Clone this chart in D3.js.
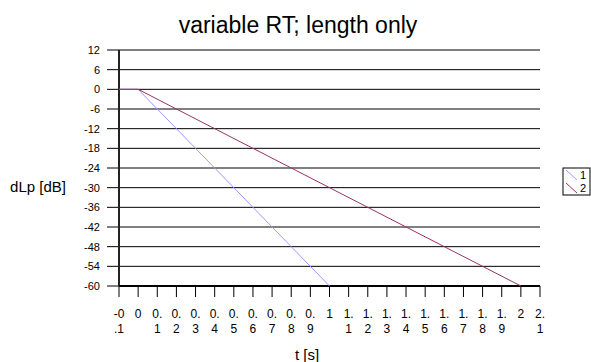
<!DOCTYPE html>
<html>
<head>
<meta charset="utf-8">
<script src="https://cdn.jsdelivr.net/npm/d3@7"></script>
<style>
  body { margin: 0; background: #fff; }
  svg { font-family: Arial, "Liberation Sans", sans-serif; }
</style>
</head>
<body>
<div id="chart"></div>
<script>
// data
var title = "variable RT; length only";
var seriesNames = ["1", "2"];
var seriesColors = ["#9999ff", "#993366"];
var tValues1 = [-0.1, 0, 1.0];
var dlp1 = [0, 0, -60];
var tValues2 = [-0.1, 0, 2.0];
var dlp2 = [0, 0, -60];
var yTicks = [12, 6, 0, -6, -12, -18, -24, -30, -36, -42, -48, -54, -60];
var xTicks = d3.range(-1, 22).map(function(i) { return i / 10; });

var series = [
    { name: seriesNames[0], color: seriesColors[0], t: tValues1, v: dlp1 },
    { name: seriesNames[1], color: seriesColors[1], t: tValues2, v: dlp2 }
];

var margin = { top: 50, right: 51, bottom: 76, left: 119 };
var width = 591 - margin.left - margin.right,
    height = 362 - margin.top - margin.bottom;

var root = d3.select("#chart").append("svg")
    .attr("width", 591)
    .attr("height", 362);

var svg = root.append("g")
    .attr("transform", "translate(" + margin.left + "," + margin.top + ")");

root.append("text")
    .attr("x", 298)
    .attr("y", 33)
    .style("text-anchor", "middle")
    .style("font-size", "23px")
    .text(title);

var x = d3.scaleLinear().domain([-0.1, 2.1]).range([0, width]);
var y = d3.scaleLinear().domain([-60, 12]).range([height, 0]);

// grid lines + left ticks
svg.selectAll("line.grid")
    .data(yTicks)
    .enter().append("line")
    .attr("class", "grid")
    .attr("x1", -12)
    .attr("x2", width)
    .attr("y1", function(d) { return y(d); })
    .attr("y2", function(d) { return y(d); })
    .attr("stroke", "#000")
    .attr("stroke-width", 1);

svg.selectAll("text.ylab")
    .data(yTicks)
    .enter().append("text")
    .attr("class", "ylab")
    .attr("x", -19)
    .attr("y", function(d) { return y(d) + 4; })
    .style("text-anchor", "end")
    .style("font-size", "11px")
    .text(function(d) { return d; });

// left axis line
svg.append("line")
    .attr("x1", 0).attr("x2", 0)
    .attr("y1", y(12)).attr("y2", height)
    .attr("stroke", "#222")
    .attr("stroke-width", 2);

// bottom axis
svg.append("line")
    .attr("x1", 0).attr("x2", width)
    .attr("y1", height).attr("y2", height)
    .attr("stroke", "#000")
    .attr("stroke-width", 2);

svg.selectAll("line.xtick")
    .data(xTicks)
    .enter().append("line")
    .attr("class", "xtick")
    .attr("x1", function(d) { return x(d); })
    .attr("x2", function(d) { return x(d); })
    .attr("y1", height)
    .attr("y2", height + 11)
    .attr("stroke", "#000");

// tick labels wrap every two characters
var fmt = function(d) { return String(Math.round(d * 10) / 10); };
var xl = svg.selectAll("text.xlab")
    .data(xTicks)
    .enter().append("text")
    .attr("class", "xlab")
    .attr("x", function(d) { return x(d); })
    .attr("y", height + 32)
    .style("text-anchor", "middle")
    .style("font-size", "12px");
xl.each(function(d) {
    var s = fmt(d);
    var parts = [];
    for (var i = 0; i < s.length; i += 2) parts.push(s.slice(i, i + 2));
    var t = d3.select(this);
    parts.forEach(function(p, i) {
        t.append("tspan")
            .attr("x", x(d))
            .attr("dy", i === 0 ? 0 : 15)
            .text(p);
    });
});

root.append("text")
    .attr("x", 307)
    .attr("y", 360)
    .style("text-anchor", "middle")
    .style("font-size", "15px")
    .text("t [s]");

root.append("text")
    .attr("x", 38)
    .attr("y", 192)
    .style("text-anchor", "middle")
    .style("font-size", "15px")
    .text("dLp [dB]");

// lines
var line = d3.line()
    .x(function(d) { return x(d[0]); })
    .y(function(d) { return y(d[1]); });

svg.selectAll("path.series")
    .data(series)
    .enter().append("path")
    .attr("class", "series")
    .attr("fill", "none")
    .attr("stroke", function(d) { return d.color; })
    .attr("stroke-width", 1)
    .attr("d", function(d) { return line(d3.zip(d.t, d.v)); });

// legend
var legend = root.append("g").attr("transform", "translate(563,168)");
legend.append("rect")
    .attr("width", 27).attr("height", 27)
    .attr("fill", "#fff")
    .attr("stroke", "#000");
var li = legend.selectAll("g.item")
    .data(series)
    .enter().append("g")
    .attr("class", "item")
    .attr("transform", function(d, i) { return "translate(0," + (i * 13) + ")"; });
li.append("line")
    .attr("x1", 3).attr("y1", 2)
    .attr("x2", 14).attr("y2", 12)
    .attr("stroke", function(d) { return d.color; });
li.append("text")
    .attr("x", 17).attr("y", 11)
    .style("font-size", "11px")
    .text(function(d) { return d.name; });
</script>
</body>
</html>
